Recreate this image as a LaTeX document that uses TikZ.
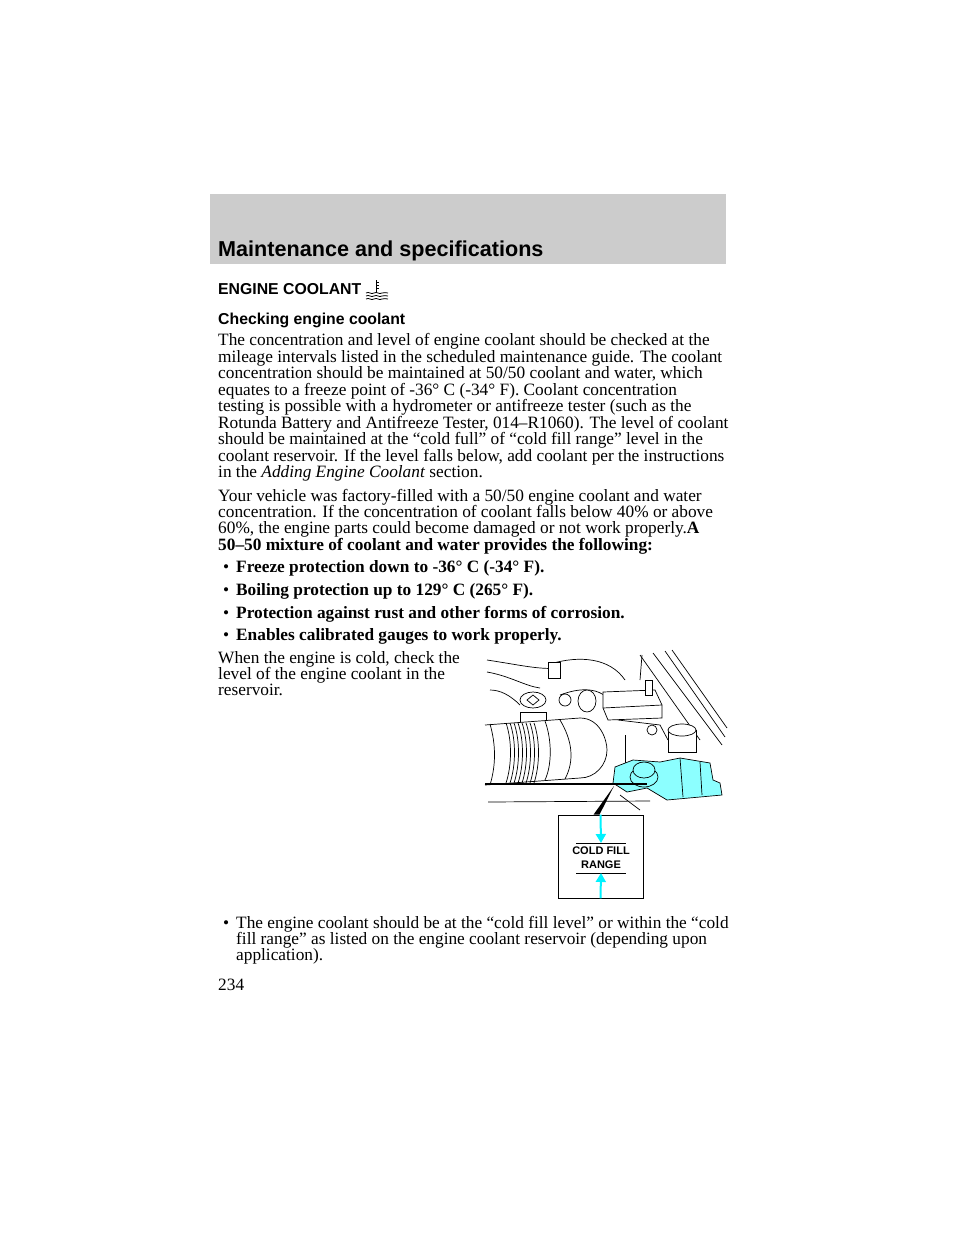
\documentclass[tikz,border=0pt]{standalone}
\usepackage{fontspec}
\setmainfont{Liberation Serif}
\setsansfont{Liberation Sans}
\usetikzlibrary{positioning, arrows.meta, calc}
\definecolor{aquafill}{rgb}{0.55,1,1}
\definecolor{aqualine}{rgb}{0,0.95,1}

\begin{document}
\begin{tikzpicture}[x=1pt, y=-1pt,
    body/.style={anchor=base west, inner sep=0pt, font=\fontsize{17.3}{19}\selectfont},
    bodyb/.style={body, font=\fontsize{17.3}{19}\selectfont\bfseries},
    head/.style={anchor=base west, inner sep=0pt, font=\sffamily\bfseries\fontsize{15.8}{17}\selectfont},
    part/.style={draw=black, line width=0.7pt, fill=white},
    aqua/.style={draw=black, line width=0.7pt, fill=aquafill},
    cyanarrow/.style={draw=aqualine, line width=2pt, -{Triangle[length=9pt,width=10pt]}}
]
\useasboundingbox (0,0) rectangle (960,1242);
\fill[white] (0,0) rectangle (960,1242);

% ---- header band ----
\fill[gray!40] (210,194) rectangle (726,264);
\node[anchor=base west, inner sep=0pt, font=\sffamily\bfseries\fontsize{21.6}{23}\selectfont] (band) at (218,256) {Maintenance and specifications};

% ---- headings ----
\node[head] (hcool) at (218,294) {ENGINE COOLANT};
% coolant symbol
\begin{scope}[shift={(376,289)}, line width=0.8pt]
  \draw (0,-9) -- (0,3);
  \foreach \t in {-7,-4,-1} \draw (0,\t) -- (3,\t);
  \foreach \w in {4,7,10}
    \draw (-10,\w) .. controls (-7,\w-2) and (-5,\w+2) .. (-2,\w) .. controls (1,\w-2) and (3,\w+2) .. (6,\w) .. controls (8,\w-2) and (10,\w+1) .. (12,\w);
\end{scope}
\node[head] (hcheck) at (218,324) {Checking engine coolant};

% ---- first paragraph ----
\foreach \l/\txt in {345/{The concentration and level of engine coolant should be checked at the},
  362/{mileage intervals listed in the scheduled maintenance guide. The coolant},
  378/{concentration should be maintained at 50/50 coolant and water, which},
  395/{equates to a freeze point of -36° C (-34° F). Coolant concentration},
  411/{testing is possible with a hydrometer or antifreeze tester (such as the},
  428/{Rotunda Battery and Antifreeze Tester, 014–R1060). The level of coolant},
  444/{should be maintained at the “cold full” of “cold fill range” level in the},
  461/{coolant reservoir. If the level falls below, add coolant per the instructions}}
  \node[body] at (218,\l) {\txt};
\node[body] (plast) at (218,477) {in the \textit{Adding Engine Coolant} section.};

% ---- second paragraph ----
\node[body] (p2a) at (218,501) {Your vehicle was factory-filled with a 50/50 engine coolant and water};
\node[body] (p2b) at (218,517) {concentration. If the concentration of coolant falls below 40\% or above};
\node[body] (p2c) at (218,533) {60\%, the engine parts could become damaged or not work properly.\textbf{A}};
\node[bodyb] (p2d) at (218,550) {50–50 mixture of coolant and water provides the following:};

% ---- bold bullets ----
\foreach \l/\txt in {572/{Freeze protection down to -36° C (-34° F).},
  595/{Boiling protection up to 129° C (265° F).},
  618/{Protection against rust and other forms of corrosion.},
  640/{Enables calibrated gauges to work properly.}} {
  \node[body] at (223,\l) {•};
  \node[bodyb] at (236,\l) {\txt};
}

\node[body] (cold1) at (218,663) {When the engine is cold, check the};
\node[body] (cold2) at (218,679) {level of the engine coolant in the};
\node[body] (cold3) at (218,695) {reservoir.};

% ---- last bullet ----
\node[body] (bul) at (223,928) {•};
\node[body] (lb1) at (236,928) {The engine coolant should be at the “cold fill level” or within the “cold};
\node[body] (lb2) at (236,944) {fill range” as listed on the engine coolant reservoir (depending upon};
\node[body] (lb3) at (236,960) {application).};

\node[body] (pgno) at (218,990) {234};

% ---- illustration: engine bay ----
\begin{scope}[line width=0.7pt]
  % hood edge diagonals
  \draw (653,653) -- (722,745);
  \draw (665,651) -- (725,737);
  \draw (672,650) -- (727,728);
  \draw (640,655) -- (700,740);
  % wires top left
  \draw (487,660) .. controls (520,665) and (540,670) .. (560,668);
  \draw (487,672) .. controls (510,676) and (525,686) .. (540,688);
  \draw (490,690) .. controls (500,690) and (510,695) .. (520,705);
  \draw (550,664) .. controls (580,655) and (610,658) .. (625,680);
  \draw[part] (548,662) rectangle (560,678);
  \draw (642,655) -- (640,680);
  % engine body outline
  \draw (560,695) .. controls (600,680) and (615,700) .. (618,720);
  \draw (618,720) -- (660,725) -- (668,740);
  \draw (625,735) -- (625,770);
  % battery box
  \draw[part] (603,692) -- (655,690) -- (662,705) -- (662,718) -- (608,720) -- (603,708) -- cycle;
  \draw (603,708) -- (662,705);
  \draw[part] (645,680) rectangle (652,695);
  % star cap
  \draw[part] (520,712) rectangle (546,728);
  \draw[part] (533,700) ellipse (13 and 8);
  \draw (527,700) -- (533,695) -- (539,700) -- (533,705) -- cycle;
  \draw[part] (565,700) circle (6);
  \draw[part] (587,701) ellipse (9 and 11);
  % overflow bottle cap
  \draw[part] (668,730) rectangle (696,752);
  \draw[part] (682,730) ellipse (14 and 6);
  \draw[part] (652,730) circle (5);
  % air intake hose
  \draw[part] (485,725) -- (580,718) .. controls (600,718) and (607,740) .. (607,750)
        .. controls (607,765) and (595,778) .. (580,778) -- (485,785);
  \draw (560,720) .. controls (572,740) and (575,760) .. (565,779);
  \draw (545,721) .. controls (552,740) and (552,765) .. (545,780);
  \foreach \r in {506,510,...,534}
    \draw (\r,723) .. controls (\r+6,740) and (\r+6,765) .. (\r,783);
  \draw (490,724) .. controls (496,745) and (496,765) .. (490,785);
  % reservoir (cyan)
  \draw[aqua] (615,767) -- (633,760) -- (660,762) -- (680,758) -- (710,763)
        -- (713,780) -- (720,783) -- (722,795) -- (667,800) -- (647,788)
        -- (627,792) -- (613,783) -- cycle;
  \draw (680,758) -- (683,797);
  \draw (700,762) -- (702,795);
  \draw[aqua] (644,777) ellipse (14 and 10);
  \draw[aqua] (644,770) ellipse (11 and 8);
  % ledge lines
  \draw[line width=1.2pt] (485,784) -- (647,784);
  \draw (488,802) -- (650,801);
  \draw (620,795) -- (640,810);
\end{scope}

% ---- label box ----
\node[draw=black, line width=0.7pt, minimum width=85pt, minimum height=83pt, inner sep=0pt] (lbox) at (600.5,856.5) {};
\node[inner sep=0pt, align=center, font=\sffamily\bfseries\fontsize{11}{14}\selectfont] (lbl) at (601,858) {COLD FILL\\RANGE};
\coordinate (ltop) at (576,843);
\coordinate (ltopr) at (626,843);
\coordinate (lbot) at (576,873);
\coordinate (lbotr) at (626,873);
\draw[line width=0.7pt] (ltop) -- (ltopr);
\draw[line width=0.7pt] (lbot) -- (lbotr);
\draw[cyanarrow] (lbox.north) -- (601,843);
\draw[cyanarrow] (lbox.south) -- (601,873);
% leader
\coordinate (lead) at (614,786);
\fill[black] (lead) -- ($(lbox.north)+(-1,0)$) -- ($(lbox.north)+(-7,0)$) -- cycle;
\end{tikzpicture}
\end{document}
